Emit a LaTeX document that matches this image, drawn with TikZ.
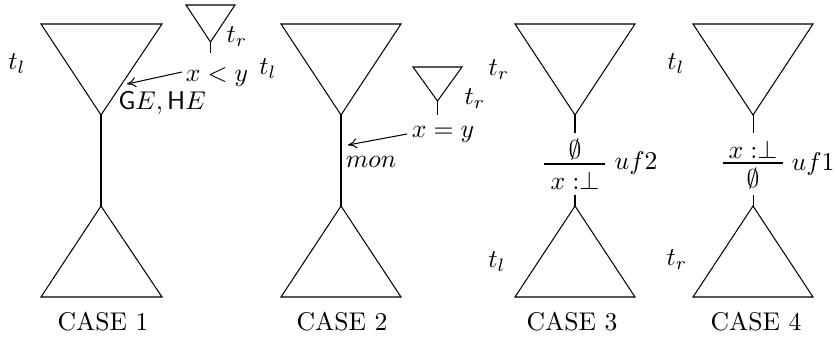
\documentclass[tikz,border=0pt]{standalone}
\usetikzlibrary{arrows.meta}
\begin{document}
\begin{tikzpicture}[x=0.39pt,y=-0.39pt,
  tree/.style={draw,line width=0.4pt},
  lbl/.style={inner sep=0pt},
  pointer/.style={draw,line width=0.4pt,-{To[length=3.5pt,width=4pt]}}]
\useasboundingbox (0,0) rectangle (835,343);
% ---------- CASE 1 ----------
\coordinate (a1) at (101,115);
\coordinate (b1) at (101,206);
\draw[tree] (41,24) -- (162,24) -- (a1) -- cycle;
\draw[tree] (b1) -- (162,297) -- (41,297) -- cycle;
\draw[tree] (a1) -- (b1);
\coordinate (s1) at (210.5,42);
\coordinate (s1e) at (210.5,53);
\draw[tree] (186,5) -- (235,5) -- (s1) -- cycle;
\draw[tree] (s1) -- (s1e);
\node[lbl] (tl1) at (17,64) {$t_l$};
\node[lbl] (tr1) at (237,37) {$t_r$};
\node[lbl] (xy1) at (217,77) {$x<y$};
\coordinate (tip1) at (127,84);
\coordinate (st1) at (182,72);
\draw[pointer] (st1) -- (tip1);
\node[lbl] (ge1) at (162,103) {$\mathsf{G}E,\mathsf{H}E$};
\node[lbl] (c1) at (103,322) {CASE 1};
% ---------- CASE 2 ----------
\coordinate (a2) at (341,115);
\coordinate (b2) at (341,206);
\draw[tree] (281,24) -- (401,24) -- (a2) -- cycle;
\draw[tree] (b2) -- (401,297) -- (281,297) -- cycle;
\draw[tree] (a2) -- (b2);
\coordinate (s2) at (437.5,101);
\coordinate (s2e) at (437.5,115);
\draw[tree] (413,67) -- (462,67) -- (s2) -- cycle;
\draw[tree] (s2) -- (s2e);
\node[lbl] (tl2) at (268,69) {$t_l$};
\node[lbl] (tr2) at (475,99) {$t_r$};
\node[lbl] (xy2) at (443,134) {$x=y$};
\coordinate (tip2) at (348,145);
\coordinate (st2) at (407,134);
\draw[pointer] (st2) -- (tip2);
\node[lbl] (mon2) at (371,162) {$mon$};
\node[lbl] (c2) at (342,322) {CASE 2};
% ---------- CASE 3 ----------
\coordinate (a3) at (575,115);
\coordinate (b3) at (575,206);
\draw[tree] (515,24) -- (635,24) -- (a3) -- cycle;
\draw[tree] (b3) -- (635,297) -- (515,297) -- cycle;
\node[lbl] (e3) at (575,150) {$\emptyset$};
\node[lbl] (x3) at (575,181) {$x:\perp$};
\draw[tree] (a3) -- (575,133) coordinate (m3);
\draw[tree] (575,195) coordinate (n3) -- (b3);
\draw[tree] (544,164) coordinate (r3a) -- (605,164) coordinate (r3b);
\node[lbl] (uf2) at (636,163) {$uf2$};
\node[lbl] (tr3) at (499,70) {$t_r$};
\node[lbl] (tl3) at (497,262) {$t_l$};
\node[lbl] (c3) at (572,322) {CASE 3};
% ---------- CASE 4 ----------
\coordinate (a4) at (753,115);
\coordinate (b4) at (753,206);
\draw[tree] (693,24) -- (813,24) -- (a4) -- cycle;
\draw[tree] (b4) -- (813,297) -- (693,297) -- cycle;
\node[lbl] (x4) at (753,150) {$x:\perp$};
\node[lbl] (e4) at (753,179) {$\emptyset$};
\draw[tree] (a4) -- (753,133) coordinate (m4);
\draw[tree] (753,195) coordinate (n4) -- (b4);
\draw[tree] (723,163) coordinate (r4a) -- (783,163) coordinate (r4b);
\node[lbl] (uf1) at (813,164) {$uf1$};
\node[lbl] (tl4) at (676,64) {$t_l$};
\node[lbl] (tr4) at (677,260) {$t_r$};
\node[lbl] (c4) at (756,322) {CASE 4};
\end{tikzpicture}
\end{document}
